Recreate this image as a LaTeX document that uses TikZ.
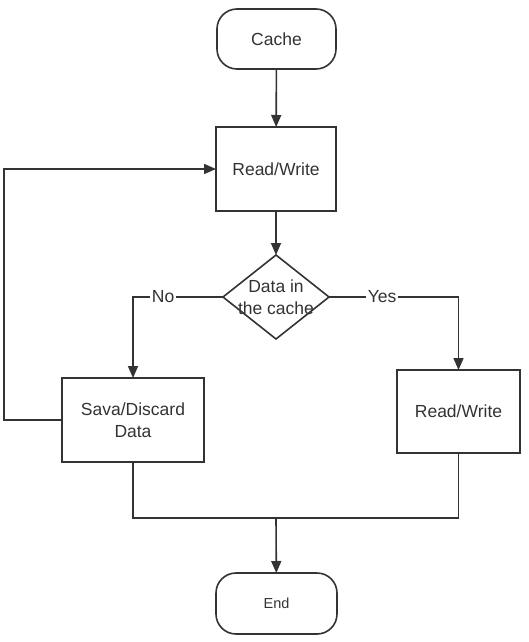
\documentclass[tikz,border=0pt]{standalone}
\usepackage{fontspec}
\setmainfont{Liberation Sans}
\usetikzlibrary{arrows.meta,shapes.geometric}
\definecolor{ln}{HTML}{333333}
\begin{document}
\begin{tikzpicture}[x=1pt,y=-1pt,
  every node/.style={text=ln,font=\fontsize{17.5}{22.5}\selectfont},
  shp/.style={draw=ln,line width=1.6pt,inner sep=0pt,outer sep=0pt,align=center},
  terminal/.style={shp,rectangle,rounded corners=20pt},
  procbox/.style={shp,rectangle},
  decision/.style={shp,diamond},
  conn/.style={draw=ln,line width=1.6pt},
  arr/.style={conn,-{Triangle[length=12pt,width=10pt]}},
  lab/.style={fill=white,inner sep=1.5pt}
]
\useasboundingbox (0,0) rectangle (528,642);
\fill[white] (0,0) rectangle (528,642);

\node[terminal,minimum width=119pt,minimum height=60pt] (cache) at (276.5,39) {Cache};
\node[procbox,minimum width=120pt,minimum height=84pt] (rw1) at (276,169) {Read/Write};
\node[decision,minimum width=106pt,minimum height=84pt] (dec) at (276,297) {};
\node[align=center,inner sep=0pt] (dect) at (276,297) {Data in\\the cache};
\node[procbox,minimum width=142pt,minimum height=84pt] (sava) at (133,420) {Sava/Discard\\Data};
\node[procbox,minimum width=123pt,minimum height=83pt] (rw2) at (458.5,411.5) {Read/Write};
\node[terminal,minimum width=121pt,minimum height=61pt,font=\fontsize{14.5}{18}\selectfont] (end) at (276.5,603.5) {End};

\coordinate (fb) at (4,420);
\coordinate (m) at (276,518);

\draw[arr] (cache) -- (rw1);
\draw[arr] (rw1) -- (dec);
\draw[arr] (dec.west) -| node[lab,pos=0.333] {No} (sava.north);
\draw[arr] (dec.east) -| node[lab,pos=0.205] {Yes} (rw2.north);
\draw[arr] (sava.west) -- (fb) |- (rw1.west);
\draw[conn] (sava.south) |- (m);
\draw[conn] (rw2.south) |- (m);
\draw[arr] (m) -- (end);
\end{tikzpicture}
\end{document}
